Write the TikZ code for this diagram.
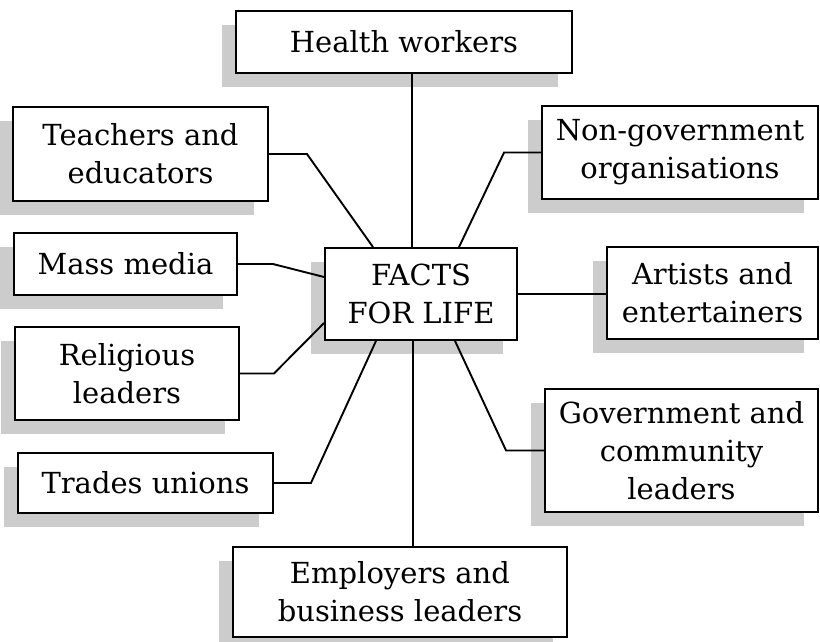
\documentclass[tikz,border=0pt]{standalone}
\usepackage{fontspec}
\setmainfont{DejaVu Serif}
\usetikzlibrary{shadows}
\tikzset{
  box/.style={draw=black, line width=1.9pt, fill=white, align=center, inner sep=0pt,
    font=\fontsize{29}{38}\selectfont,
    drop shadow={shadow xshift=-14pt, shadow yshift=-14pt, fill=black!20, opacity=1}},
  link/.style={draw=black, line width=1.9pt, line join=miter}
}
\begin{document}
\begin{tikzpicture}[x=1pt, y=-1pt]
\useasboundingbox (0,0) rectangle (820,641);
\node[box, minimum width=336pt, minimum height=62pt] (health) at (404,42) {Health workers};
\node[box, minimum width=255pt, minimum height=94pt] (teach) at (140.5,154) {Teachers and\\educators};
\node[box, minimum width=223pt, minimum height=62pt] (mass) at (125.5,264) {Mass media};
\node[box, minimum width=224pt, minimum height=93pt] (relig) at (127,373.5) {Religious\\leaders};
\node[box, minimum width=255pt, minimum height=60pt] (trades) at (145.5,483) {Trades unions};
\node[box, minimum width=334pt, minimum height=90pt] (employ) at (400,592) {Employers and\\business leaders};
\node[box, minimum width=192pt, minimum height=92pt] (facts) at (421,294) {FACTS\\FOR LIFE};
\node[box, minimum width=276pt, minimum height=93pt] (ngo) at (680,152.5) {Non-government\\organisations};
\node[box, minimum width=211pt, minimum height=92pt] (artists) at (712.5,293) {Artists and\\entertainers};
\node[box, minimum width=273pt, minimum height=123pt] (gov) at (681.5,450.5) {Government and\\community\\leaders};

\draw[link] ([xshift=8pt]health.south) -- ([xshift=-9pt]facts.north);
\draw[link] ([xshift=-8pt]facts.south) -- ([xshift=13pt]employ.north);
\draw[link] (teach.east) -- ++(38,0) -- ([xshift=-48pt]facts.north);
\draw[link] (mass.east) -- ++(35,0) -- ([yshift=17pt]facts.west);
\draw[link] (relig.east) -- ++(34,0) -- ([yshift=-29pt]facts.west);
\draw[link] (trades.east) -- ++(37,0) -- ([xshift=-45pt]facts.south);
\draw[link] (ngo.west) -- ++(-37,0) -- ([xshift=38pt]facts.north);
\draw[link] (gov.west) -- ++(-38,0) -- ([xshift=34pt]facts.south);
\draw[link] (facts.east) -- (facts.east -| artists.west);
\end{tikzpicture}
\end{document}
